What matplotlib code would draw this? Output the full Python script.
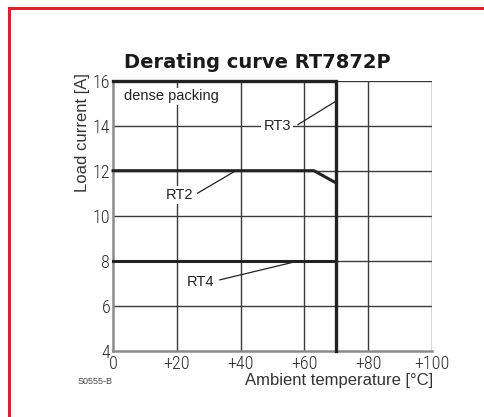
import matplotlib
matplotlib.use("Agg")
import matplotlib.pyplot as plt
from matplotlib.lines import Line2D
from matplotlib import font_manager

# Data
rt3_x = [0, 70, 70]
rt3_y = [16, 16, 4]
rt2_x = [0, 63, 70]
rt2_y = [12, 12, 11.45]
rt4_x = [0, 70]
rt4_y = [8, 8]

x_ticks = [0, 20, 40, 60, 80, 100]
x_tick_labels = ["0", "+20", "+40", "+60", "+80", "+100"]
y_ticks = [4, 6, 8, 10, 12, 14, 16]
y_tick_labels = ["4", "6", "8", "10", "12", "14", "16"]

W, H = 485, 417
fig = plt.figure(figsize=(W / 100, H / 100), dpi=100)
fig.patch.set_facecolor("white")

# look for a condensed face
names = {f.name for f in font_manager.fontManager.ttflist}
narrow_props = None
for pref in ["Liberation Sans Narrow", "Roboto Condensed", "Open Sans Condensed", "DejaVu Sans Condensed"]:
    if pref in names:
        narrow_props = dict(fontfamily=pref)
        break
if narrow_props is None:
    cands = [f for f in font_manager.fontManager.ttflist
             if f.style == "normal" and str(f.weight) in ("400", "normal") and
             (str(f.stretch) in ("condensed", "semi-condensed") or "ondensed" in f.fname or "Narrow" in f.fname)]
    if cands:
        narrow_props = dict(fontproperties=font_manager.FontProperties(fname=cands[0].fname))
if narrow_props is None:
    narrow_props = dict(fontfamily=["Liberation Sans", "DejaVu Sans"])

regular = ["Liberation Sans", "DejaVu Sans"]

left, right = 113 / W, 432 / W
bottom, top = 1 - 350.7 / H, 1 - 80.7 / H
ax = fig.add_axes([left, bottom, right - left, top - bottom])
ax.set_xlim(0, 100)
ax.set_ylim(4, 16)

grid_c = "#3a3a3a"
curve_c = "#222222"
for x in x_ticks[1:]:
    ax.axvline(x, color=grid_c, lw=1.0, zorder=1)
for y in y_ticks[1:]:
    ax.axhline(y, color=grid_c, lw=1.0, zorder=1)

for s in ["top", "right"]:
    ax.spines[s].set_visible(False)
for s in ["left", "bottom"]:
    ax.spines[s].set_color("#8a8a8a")
    ax.spines[s].set_linewidth(1.8)

ax.plot(rt3_x, rt3_y, color=curve_c, lw=2.4, clip_on=False, zorder=3, solid_joinstyle="miter")
ax.plot(rt2_x, rt2_y, color=curve_c, lw=2.2, clip_on=False, zorder=3)
ax.plot(rt4_x, rt4_y, color=curve_c, lw=2.2, clip_on=False, zorder=3)

TICK_SIZE = 13
ax.set_xticks(x_ticks)
ax.set_yticks(y_ticks)
ax.set_xticklabels(x_tick_labels)
ax.set_yticklabels(y_tick_labels)
for lab in ax.get_xticklabels() + ax.get_yticklabels():
    if "fontproperties" in narrow_props:
        fp = narrow_props["fontproperties"].copy()
        fp.set_size(TICK_SIZE)
        lab.set_fontproperties(fp)
    else:
        lab.set_fontfamily(narrow_props["fontfamily"])
        lab.set_fontsize(TICK_SIZE)
        lab.set_fontweight("light")
    lab.set_color("#2a2a2a")
ax.tick_params(axis="both", length=0)
ax.tick_params(axis="x", pad=3)
ax.tick_params(axis="y", pad=2)

# Annotations
ax.text(3.5, 15.3, "dense packing", fontfamily=regular, fontsize=10.5,
        color="#222222", ha="left", va="center", zorder=4,
        bbox=dict(facecolor="white", edgecolor="none", pad=1))
ax.text(51.5, 14.0, "RT3", fontfamily=regular, fontsize=10.5, color="#222222",
        ha="center", va="center", zorder=4,
        bbox=dict(facecolor="white", edgecolor="none", pad=1.5))
ax.plot([58, 70], [14.05, 15.1], color=curve_c, lw=0.9, zorder=4)
ax.text(21.0, 10.9, "RT2", fontfamily=regular, fontsize=10.5, color="#222222",
        ha="center", va="center", zorder=4,
        bbox=dict(facecolor="white", edgecolor="none", pad=1.5))
ax.plot([26.5, 38.5], [11.0, 12.0], color=curve_c, lw=0.9, zorder=4)
ax.text(27.5, 7.07, "RT4", fontfamily=regular, fontsize=10.5, color="#222222",
        ha="center", va="center", zorder=4,
        bbox=dict(facecolor="white", edgecolor="none", pad=1.5))
ax.plot([33.5, 58.5], [7.15, 8.0], color=curve_c, lw=0.9, zorder=4)

# Titles and labels
fig.text(257 / W, 1 - 62 / H, "Derating curve RT7872P", fontfamily=["DejaVu Sans"],
         fontweight="bold", fontsize=14, color="#1a1a1a", ha="center", va="center")
fig.text(82 / W, 1 - 73 / H, "Load current [A]", fontfamily=regular, fontsize=12,
         color="#333333", rotation=90, ha="center", va="top")
fig.text(433 / W, 1 - 381 / H, "Ambient temperature [°C]", fontfamily=regular,
         fontsize=12, color="#333333", ha="right", va="center")
fig.text(78 / W, 1 - 382 / H, "S0555-B", fontfamily=regular, fontsize=6.5,
         color="#444444", ha="left", va="center")

# Red frame
red = "#d42630"
fig.add_artist(Line2D([9.5 / W, 9.5 / W], [0, 1 - 7.5 / H], color=red, lw=2.2,
                      transform=fig.transFigure))
fig.add_artist(Line2D([9.5 / W, 1.0], [1 - 7.5 / H, 1 - 7.5 / H], color=red, lw=2.2,
                      transform=fig.transFigure))

fig.savefig("out.png", dpi=100)
